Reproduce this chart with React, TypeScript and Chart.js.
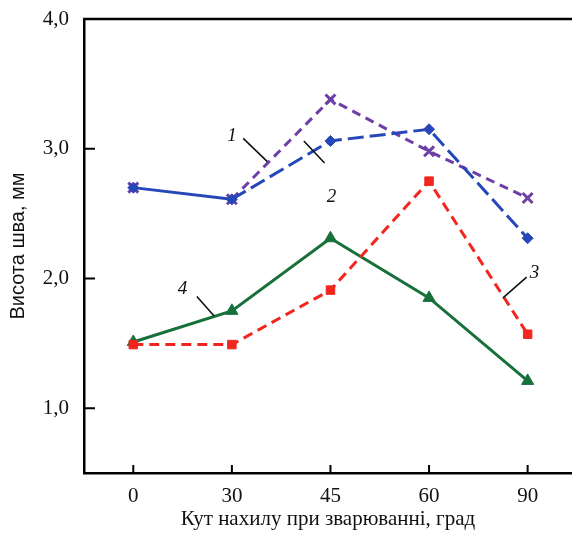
import React, { useEffect, useRef } from "react";
import { Chart, registerables } from "chart.js";

Chart.register(...registerables);

const categories = ["0", "30", "45", "60", "90"];
const series1 = [2.7, 2.61, 3.38, 2.98, 2.62];
const series2 = [2.7, 2.61, 3.06, 3.15, 2.31];
const series3 = [1.49, 1.49, 1.91, 2.75, 1.57];
const series4 = [1.51, 1.75, 2.31, 1.85, 1.21];
const yTicks = [1, 2, 3, 4];
const curveLabels = ["1", "2", "3", "4"];
// label anchor (x index, y value) and leader line ends in data units
const labelAnchors = [
  [1.0, 3.1],
  [2.01, 2.63],
  [4.07, 2.04],
  [0.5, 1.92],
];
const leaderLines = [
  [1.115, 3.08, 1.36, 2.9],
  [1.73, 3.06, 1.94, 2.89],
  [3.99, 2.01, 3.75, 1.85],
  [0.645, 1.86, 0.82, 1.71],
];

const PURPLE = "#6e3fa6";
const BLUE = "#2547b8";
const RED = "#f2261e";
const GREEN = "#17703a";
const SERIF = "'Liberation Serif', 'Times New Roman', serif";
const SANS = "'Liberation Sans', Arial, sans-serif";

const framePlugin = {
  id: "framePlugin",
  afterDraw(chart: any) {
    const { ctx, chartArea, scales } = chart;
    const xs = scales.x;
    const ys = scales.y;
    ctx.save();
    ctx.strokeStyle = "#000";
    ctx.lineWidth = 2.5;
    ctx.beginPath();
    ctx.moveTo(chartArea.left - 1, chartArea.top);
    ctx.lineTo(chartArea.right, chartArea.top);
    ctx.stroke();
    ctx.lineWidth = 2;
    ctx.beginPath();
    yTicks.forEach((v) => {
      const py = ys.getPixelForValue(v);
      ctx.moveTo(chartArea.left, py);
      ctx.lineTo(chartArea.left + 11, py);
    });
    categories.forEach((_, i) => {
      const px = xs.getPixelForValue(i);
      ctx.moveTo(px, chartArea.bottom);
      ctx.lineTo(px, chartArea.bottom - 8);
    });
    ctx.stroke();

    ctx.lineWidth = 1.6;
    ctx.strokeStyle = "#111";
    ctx.beginPath();
    leaderLines.forEach(([x1, y1, x2, y2]) => {
      ctx.moveTo(xs.getPixelForValue(x1), ys.getPixelForValue(y1));
      ctx.lineTo(xs.getPixelForValue(x2), ys.getPixelForValue(y2));
    });
    ctx.stroke();

    ctx.fillStyle = "#111";
    ctx.font = `italic 19px ${SERIF}`;
    ctx.textAlign = "center";
    ctx.textBaseline = "middle";
    curveLabels.forEach((t, i) => {
      const [x, y] = labelAnchors[i];
      ctx.fillText(t, xs.getPixelForValue(x), ys.getPixelForValue(y));
    });
    ctx.restore();
  },
};

export default function App() {
  const ref = useRef<HTMLCanvasElement | null>(null);

  useEffect(() => {
    document.body.style.margin = "0";
    const canvas = ref.current;
    if (!canvas) return;
    const mk = (arr: number[]) => arr.map((v, i) => ({ x: i, y: v }));
    const chart = new Chart(canvas, {
      type: "line",
      data: {
        datasets: [
          {
            label: "2",
            data: mk(series2),
            borderColor: BLUE,
            backgroundColor: BLUE,
            borderWidth: 3,
            borderDash: [16, 6],
            segment: {
              borderDash: (c: any) => (c.p0DataIndex === 0 ? [] : [16, 6]),
            },
            pointStyle: "rectRot",
            pointRadius: 5.5,
            pointBorderWidth: 1,
            tension: 0,
          },
          {
            label: "1",
            data: mk(series1),
            borderColor: PURPLE,
            backgroundColor: PURPLE,
            borderWidth: 3,
            borderDash: [9, 6],
            segment: {
              borderColor: (c: any) => (c.p0DataIndex === 0 ? "rgba(0,0,0,0)" : PURPLE),
            },
            pointStyle: "crossRot",
            pointRadius: 7,
            pointBorderWidth: 3,
            tension: 0,
          },
          {
            label: "3",
            data: mk(series3),
            borderColor: RED,
            backgroundColor: RED,
            borderWidth: 3,
            borderDash: [10, 6],
            pointStyle: "rect",
            pointRadius: 6,
            pointBorderWidth: 1,
            tension: 0,
          },
          {
            label: "4",
            data: mk(series4),
            borderColor: GREEN,
            backgroundColor: GREEN,
            borderWidth: 3,
            pointStyle: "triangle",
            pointRadius: 7,
            pointBorderWidth: 1,
            tension: 0,
          },
        ],
      },
      options: {
        responsive: false,
        animation: false,
        layout: { autoPadding: false, padding: { top: 19, right: 0, left: 0, bottom: 0 } },
        plugins: { legend: { display: false }, tooltip: { enabled: false } },
        scales: {
          x: {
            type: "linear",
            min: -0.5,
            max: 4.45,
            afterBuildTicks: (s: any) => {
              s.ticks = categories.map((_, i) => ({ value: i }));
            },
            afterFit: (s: any) => {
              s.height = 61;
              s.paddingRight = 0;
              s.paddingLeft = 0;
            },
            grid: { display: false, drawTicks: false },
            border: { display: true, color: "#000", width: 2.5 },
            ticks: {
              callback: (v: any) => categories[v] ?? "",
              font: { family: SERIF, size: 21 },
              color: "#111",
              padding: 11,
              maxRotation: 0,
            },
            title: {
              display: true,
              text: "Кут нахилу при зварюванні, град",
              font: { family: SERIF, size: 21 },
              color: "#111",
              padding: { top: 0, bottom: 2 },
            },
          },
          y: {
            min: 0.5,
            max: 4.0,
            afterBuildTicks: (s: any) => {
              s.ticks = yTicks.map((v) => ({ value: v }));
            },
            afterFit: (s: any) => {
              s.width = 84;
              s.paddingTop = 0;
              s.paddingBottom = 0;
            },
            grid: { display: false, drawTicks: false },
            border: { display: true, color: "#000", width: 2.5 },
            ticks: {
              callback: (v: any) => Number(v).toFixed(1).replace(".", ","),
              font: { family: SERIF, size: 21 },
              color: "#111",
              padding: 15,
            },
            title: {
              display: true,
              text: "Висота шва, мм",
              font: { family: SANS, size: 20 },
              color: "#111",
              padding: { top: 6, bottom: 0 },
            },
          },
        },
      },
      plugins: [framePlugin],
    } as any);
    return () => chart.destroy();
  }, []);

  return (
    <div style={{ width: 572, height: 534, background: "#fff" }}>
      <canvas ref={ref} width={572} height={534} style={{ display: "block" }} />
    </div>
  );
}
